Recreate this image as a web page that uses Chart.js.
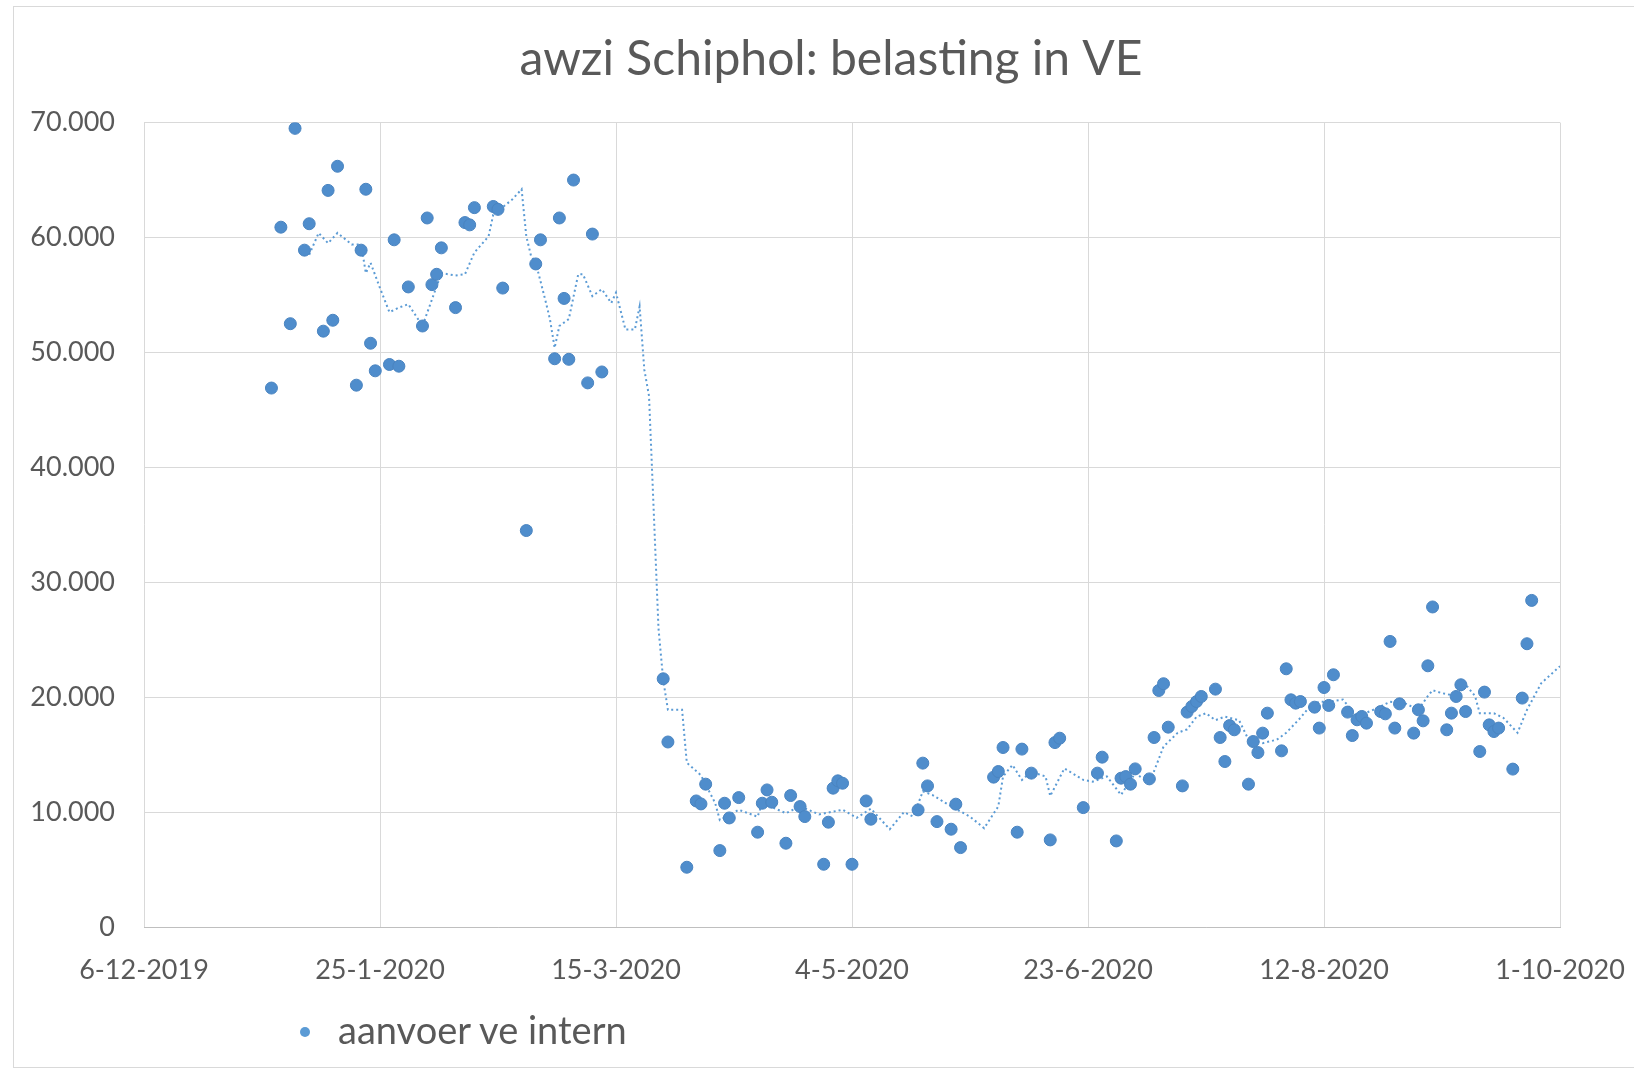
<!DOCTYPE html>
<html>
<head>
<meta charset="utf-8">
<title>awzi Schiphol: belasting in VE</title>
<script src="https://cdn.jsdelivr.net/npm/chart.js@4.4.1/dist/chart.umd.min.js"></script>
<style>
  html, body { margin: 0; padding: 0; background: #fff; overflow: hidden; }
  #frame {
    position: absolute; left: 13px; top: 6px; width: 1700px; height: 1060px;
    border-top: 1px solid #d9d9d9; border-left: 1px solid #d9d9d9; border-bottom: 1px solid #d9d9d9;
  }
  #wrap { position: absolute; left: 0; top: 0; width: 1662px; height: 1071px; }
  #legend {
    position: absolute; left: 300px; top: 1010px; height: 44px;
    display: flex; align-items: center;
    font-family: Lato, sans-serif; font-size: 38px; color: #595959;
  }
  #legend .dot {
    width: 10px; height: 10px; border-radius: 50%; background: #5b9bd5; margin-right: 28px;
  }
  #legend .txt { position: relative; top: -3px; }
</style>
</head>
<body>
<div id="frame"></div>
<div id="wrap"><canvas id="belastingChart"></canvas></div>
<div id="legend"><span class="dot"></span><span class="txt">aanvoer ve intern</span></div>
<script>
  // x-as loopt van 6-12-2019 tot 1-10-2020, ticks om de 50 dagen
  const startDate = '2019-12-06';
  const endDate = '2020-10-01';
  const xTickLabels = ['6-12-2019', '25-1-2020', '15-3-2020', '4-5-2020', '23-6-2020', '12-8-2020', '1-10-2020'];

  // metingen "aanvoer ve intern"
  const pointDates = [
    '2020-01-02', '2020-01-04', '2020-01-06', '2020-01-07', '2020-01-09', '2020-01-10', '2020-01-13', '2020-01-14', '2020-01-15', '2020-01-16',
    '2020-01-20', '2020-01-21', '2020-01-22', '2020-01-23', '2020-01-24', '2020-01-27', '2020-01-28', '2020-01-29', '2020-01-31',
    '2020-02-03', '2020-02-04', '2020-02-05', '2020-02-06', '2020-02-07', '2020-02-10', '2020-02-12', '2020-02-13', '2020-02-14',
    '2020-02-18', '2020-02-19', '2020-02-20', '2020-02-25', '2020-02-27', '2020-02-28',
    '2020-03-02', '2020-03-03', '2020-03-04', '2020-03-05', '2020-03-06', '2020-03-09', '2020-03-10', '2020-03-12',
    '2020-03-25', '2020-03-26', '2020-03-30',
    '2020-04-01', '2020-04-02', '2020-04-03', '2020-04-06', '2020-04-07', '2020-04-08', '2020-04-10',
    '2020-04-14', '2020-04-15', '2020-04-16', '2020-04-17', '2020-04-20', '2020-04-21', '2020-04-23', '2020-04-24', '2020-04-28', '2020-04-29', '2020-04-30',
    '2020-05-01', '2020-05-02', '2020-05-04', '2020-05-07', '2020-05-08', '2020-05-18', '2020-05-19', '2020-05-20', '2020-05-22', '2020-05-25', '2020-05-26', '2020-05-27',
    '2020-06-03', '2020-06-04', '2020-06-05', '2020-06-08', '2020-06-09', '2020-06-11', '2020-06-15', '2020-06-16', '2020-06-17', '2020-06-22', '2020-06-25', '2020-06-26', '2020-06-29', '2020-06-30',
    '2020-07-01', '2020-07-02', '2020-07-03', '2020-07-06', '2020-07-07', '2020-07-08', '2020-07-09', '2020-07-10', '2020-07-13', '2020-07-14', '2020-07-15', '2020-07-16',
    '2020-07-17', '2020-07-20', '2020-07-21', '2020-07-22', '2020-07-23', '2020-07-24', '2020-07-27', '2020-07-28', '2020-07-29', '2020-07-30', '2020-07-31',
    '2020-08-03', '2020-08-04', '2020-08-05', '2020-08-06', '2020-08-07', '2020-08-10', '2020-08-11', '2020-08-12', '2020-08-13', '2020-08-14', '2020-08-17',
    '2020-08-18', '2020-08-19', '2020-08-20', '2020-08-21', '2020-08-24', '2020-08-25', '2020-08-26', '2020-08-27', '2020-08-28', '2020-08-31',
    '2020-09-01', '2020-09-02', '2020-09-03', '2020-09-04', '2020-09-07', '2020-09-08', '2020-09-09', '2020-09-10', '2020-09-11', '2020-09-14', '2020-09-15',
    '2020-09-16', '2020-09-17', '2020-09-18', '2020-09-21', '2020-09-23', '2020-09-24', '2020-09-25'
  ];
  const pointValues = [
    46900, 60900, 52500, 69500, 58900, 61200, 51850, 64100, 52800, 66200,
    47150, 58900, 64200, 50800, 48400, 48950, 59800, 48800, 55700,
    52300, 61700, 55900, 56800, 59100, 53900, 61300, 61100, 62600,
    62700, 62450, 55600, 34500, 57700, 59800,
    49450, 61700, 54700, 49400, 65000, 47350, 60300, 48300,
    21600, 16100, 5200,
    10970, 10710, 12430, 6650, 10770, 9490, 11260,
    8250, 10770, 11930, 10860, 7290, 11440, 10480, 9610, 5460, 9120, 12080,
    12720, 12510, 5460, 10970, 9380, 10190, 14260, 12280, 9170, 8510, 10690, 6910,
    13040, 13530, 15620, 8250, 15480, 13390, 7580, 16050, 16430, 10390, 13390, 14780, 7490, 12950,
    13090, 12430, 13760, 12890, 16490, 20580, 21170, 17390, 12280, 18700, 19190, 19620,
    20060, 20700, 16490, 14400, 17530, 17160, 12430, 16140, 15180, 16870, 18610,
    15330, 22470, 19770, 19480, 19620, 19130, 17310, 20840, 19280, 21950, 18700,
    16660, 18030, 18320, 17740, 18750, 18550, 24850, 17310, 19420, 16870,
    18900, 17940, 22730, 27850, 17160, 18610, 20060, 21080, 18750, 15270, 20440,
    17590, 17010, 17310, 13740, 19920, 24650, 28420
  ];

  // zwevend gemiddelde (gestippelde trendlijn)
  const trendDates = [
    '2020-01-10', '2020-01-12', '2020-01-14', '2020-01-16', '2020-01-19', '2020-01-21', '2020-01-22', '2020-01-23', '2020-01-25', '2020-01-27',
    '2020-01-29', '2020-01-31', '2020-02-03', '2020-02-05', '2020-02-07', '2020-02-10', '2020-02-12', '2020-02-14', '2020-02-17', '2020-02-18',
    '2020-02-22', '2020-02-24', '2020-02-25', '2020-02-26', '2020-02-27', '2020-02-29', '2020-03-01', '2020-03-02', '2020-03-03', '2020-03-05',
    '2020-03-07', '2020-03-08', '2020-03-10', '2020-03-12', '2020-03-14', '2020-03-15', '2020-03-17', '2020-03-19', '2020-03-20', '2020-03-21',
    '2020-03-22', '2020-03-24', '2020-03-25', '2020-03-26', '2020-03-29', '2020-03-30', '2020-04-02', '2020-04-05', '2020-04-06', '2020-04-10',
    '2020-04-14', '2020-04-15', '2020-04-20', '2020-04-23', '2020-04-27', '2020-05-02', '2020-05-05', '2020-05-08', '2020-05-12', '2020-05-15',
    '2020-05-17', '2020-05-19', '2020-05-21', '2020-05-25', '2020-05-29', '2020-06-01', '2020-06-04', '2020-06-05', '2020-06-07', '2020-06-09',
    '2020-06-11', '2020-06-14', '2020-06-15', '2020-06-18', '2020-06-22', '2020-06-24', '2020-06-27', '2020-06-30', '2020-07-03', '2020-07-06',
    '2020-07-09', '2020-07-12', '2020-07-14', '2020-07-16', '2020-07-18', '2020-07-20', '2020-07-22', '2020-07-25', '2020-07-27', '2020-07-30',
    '2020-08-02', '2020-08-04', '2020-08-07', '2020-08-09', '2020-08-11', '2020-08-13', '2020-08-16', '2020-08-19', '2020-08-23', '2020-08-26',
    '2020-08-29', '2020-09-01', '2020-09-03', '2020-09-04', '2020-09-06', '2020-09-09', '2020-09-11', '2020-09-13', '2020-09-14', '2020-09-17',
    '2020-09-19', '2020-09-22', '2020-09-24', '2020-09-27', '2020-09-29', '2020-10-01'
  ];
  const trendValues = [
    58500, 60400, 59500, 60400, 59400, 59400, 56900, 57800, 55600, 53500,
    53900, 54200, 52300, 54600, 56900, 56700, 56800, 58700, 60100, 62000,
    63300, 64200, 60100, 58400, 57800, 54600, 52900, 50400, 52300, 52900,
    56800, 56800, 54900, 55500, 54300, 55200, 52000, 52000, 54000, 48500,
    46200, 26000, 21500, 18900, 18900, 14300, 13200, 10800, 9300, 10200,
    9600, 10800, 9900, 10500, 9800, 10200, 9500, 10300, 8500, 10000,
    9600, 11800, 11500, 10500, 9600, 8600, 10500, 13100, 14100, 12800,
    13500, 13100, 11400, 13800, 12800, 12650, 13100, 11500, 13400, 12500,
    15700, 16900, 17200, 18300, 18600, 18000, 18300, 18000, 16300, 16000,
    16300, 16900, 18200, 19200, 19600, 19600, 19800, 18300, 19000, 19600,
    19500, 18900, 20100, 20600, 20350, 20100, 21100, 20100, 18600, 18600,
    18200, 16900, 18900, 21200, 21950, 22700
  ];

  const DAY = 86400000;
  const t0 = Date.parse(startDate);
  const toDay = d => (Date.parse(d) - t0) / DAY;
  const totalDays = toDay(endDate);

  const scatterData = pointDates.map((d, i) => ({ x: toDay(d), y: pointValues[i] }));
  const trendData = trendDates.map((d, i) => ({ x: toDay(d), y: trendValues[i] }));

  const textColor = '#595959';
  const gridColor = '#d9d9d9';

  function formatThousands(v) {
    return String(v).replace(/\B(?=(\d{3})+(?!\d))/g, '.');
  }

  function createChart() {
    const ctx = document.getElementById('belastingChart').getContext('2d');
    new Chart(ctx, {
      type: 'scatter',
      data: {
        datasets: [
          {
            label: 'aanvoer ve intern',
            data: scatterData,
            backgroundColor: '#4f8dcc',
            borderColor: '#4a84c0',
            borderWidth: 1,
            pointRadius: 6,
            order: 0
          },
          {
            type: 'line',
            label: 'zwevend gemiddelde',
            data: trendData,
            borderColor: '#5b9bd5',
            borderWidth: 2,
            borderDash: [2, 3],
            pointRadius: 0,
            fill: false,
            tension: 0,
            order: 1
          }
        ]
      },
      options: {
        responsive: true,
        maintainAspectRatio: false,
        animation: false,
        layout: { padding: 0 },
        plugins: {
          legend: { display: false },
          tooltip: { enabled: false },
          title: {
            display: true,
            text: 'awzi Schiphol: belasting in VE',
            color: textColor,
            font: { family: 'Lato', size: 48, weight: 'normal' },
            padding: { top: 31, bottom: 34 }
          }
        },
        scales: {
          x: {
            type: 'linear',
            min: 0,
            max: totalDays,
            afterFit: scale => { scale.height = 144; },
            grid: { color: gridColor, drawTicks: false },
            border: { color: '#bfbfbf' },
            ticks: {
              stepSize: 50,
              padding: 27,
              color: textColor,
              maxRotation: 0,
              font: { family: 'Lato', size: 27 },
              callback: value => xTickLabels[Math.round(value / 50)]
            }
          },
          y: {
            min: 0,
            max: 70000,
            afterFit: scale => { scale.width = 144; },
            grid: { color: gridColor, drawTicks: false },
            border: { display: false },
            ticks: {
              stepSize: 10000,
              padding: 29,
              color: textColor,
              font: { family: 'Lato', size: 27 },
              callback: value => formatThousands(value)
            }
          },
          // lege as rechts: houdt ruimte vrij zodat de titel boven het midden van de kaart staat
          yRight: {
            type: 'linear',
            position: 'right',
            afterFit: scale => { scale.width = 102; },
            grid: { display: false },
            border: { display: false },
            ticks: { display: false }
          }
        }
      }
    });
  }

  document.fonts.load('27px Lato').then(createChart, createChart);
</script>
</body>
</html>
